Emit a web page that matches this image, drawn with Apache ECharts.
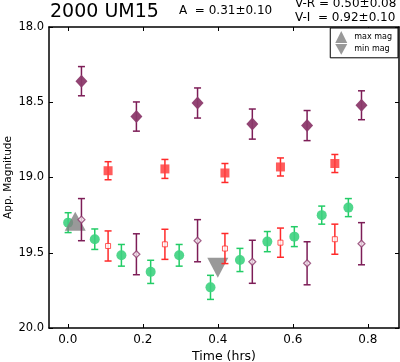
<!DOCTYPE html>
<html><head><meta charset="utf-8">
<script src="https://cdn.jsdelivr.net/npm/echarts@6/dist/echarts.min.js"></script>
<style>html,body{margin:0;padding:0;background:#fff}#c{width:400px;height:362px}</style>
</head><body><div id="c"></div>
<script>
// ---- data ----
const timeV = [0.0365, 0.183, 0.346, 0.492, 0.638, 0.783];
const magV = [18.36, 18.595, 18.505, 18.645, 18.655, 18.52];
const errV = [0.097, 0.097, 0.1, 0.1, 0.1, 0.096];

const timeR = [0.1075, 0.259, 0.419, 0.567, 0.712];
const magR = [18.955, 18.943, 18.97, 18.93, 18.907];
const errR = [0.06, 0.063, 0.063, 0.06, 0.06];

const timeG = [0.001, 0.072, 0.143, 0.221, 0.297, 0.3805, 0.459, 0.532, 0.604, 0.677, 0.748];
const magG = [19.30, 19.41, 19.517, 19.627, 19.517, 19.73, 19.548, 19.426, 19.393, 19.25, 19.20];
const errG = [0.066, 0.068, 0.072, 0.077, 0.072, 0.08, 0.077, 0.067, 0.066, 0.06, 0.06];

const magR2 = [19.455, 19.444, 19.472, 19.433, 19.41];
const errR2 = [0.1, 0.1, 0.1, 0.097, 0.1];

const magV2 = [19.28, 19.51, 19.42, 19.56, 19.57, 19.44];
const errV2 = [0.14, 0.136, 0.14, 0.143, 0.143, 0.14];

const maxMag = [[0.02, 19.29]];
const minMag = [[0.40, 19.60]];

const xTicks = [0.0, 0.2, 0.4, 0.6, 0.8];
const yTicks = [18.0, 18.5, 19.0, 19.5, 20.0];
// ---- end data ----

const zip = (xs, ys) => xs.map((x, i) => [x, ys[i]]);
const zipErr = (xs, ys, es) => xs.map((x, i) => [x, ys[i], es[i]]);
const font = 'DejaVu Sans';

function errSeries(xs, ys, es, color, z) {
  return {
    type: 'custom', silent: true, z: z,
    data: zipErr(xs, ys, es),
    renderItem: function (params, api) {
      const x = api.value(0), y = api.value(1), e = api.value(2);
      const p1 = api.coord([x, y - e]);
      const p2 = api.coord([x, y + e]);
      const w = 3.5;
      const st = { stroke: color, lineWidth: 1.5 };
      return {
        type: 'group', children: [
          { type: 'line', shape: { x1: p1[0], y1: p1[1], x2: p2[0], y2: p2[1] }, style: st },
          { type: 'line', shape: { x1: p1[0] - w, y1: p1[1], x2: p1[0] + w, y2: p1[1] }, style: st },
          { type: 'line', shape: { x1: p2[0] - w, y1: p2[1], x2: p2[0] + w, y2: p2[1] }, style: st }
        ]
      };
    }
  };
}

const purple = '#7d1d57', red = '#ff2a2a', gray = '#808080';
const downTri = 'path://M0,0 L2,0 L1,1.8 Z';

const chart = echarts.init(document.getElementById('c'), null, { renderer: 'canvas' });
chart.setOption({
  animation: false,
  textStyle: { fontFamily: font },
  grid: { left: 49, right: 1, top: 27, bottom: 34, containLabel: false, outerBoundsMode: 'none' },
  graphic: [
    { type: 'text', left: 50, top: 3, style: { text: '2000 UM15', font: '19px "DejaVu Sans"', fill: '#000' } },
    { type: 'text', left: 179, top: 5, style: { text: 'A  = 0.31\u00b10.10', font: '12px "DejaVu Sans"', fill: '#000' } },
    { type: 'text', left: 295, top: -2, style: { text: 'V-R = 0.50\u00b10.08', font: '12px "DejaVu Sans"', fill: '#000' } },
    { type: 'text', left: 295, top: 12, style: { text: 'V-I  = 0.92\u00b10.10', font: '12px "DejaVu Sans"', fill: '#000' } }
  ],
  legend: {
    right: 2, top: 28, orient: 'vertical',
    data: [{ name: 'max mag', icon: 'triangle' }, { name: 'min mag', icon: downTri }],
    itemWidth: 12, itemHeight: 12, itemGap: 1,
    padding: [3, 6, 3, 5],
    borderColor: '#000', borderWidth: 1, backgroundColor: '#fff',
    textStyle: { fontSize: 8, fontFamily: font, color: '#000', padding: [0, 0, 0, 2] }
  },
  xAxis: [{
    type: 'value', min: -0.05, max: 0.883,
    name: 'Time (hrs)', nameLocation: 'middle', nameGap: 22, nameMoveOverlap: false,
    nameTextStyle: { fontSize: 12.5, color: '#000', fontFamily: font },
    axisLine: { show: true, onZero: false, lineStyle: { color: '#000', width: 1.5 } },
    axisTick: { show: true, inside: true, length: 4, customValues: xTicks, lineStyle: { color: '#000' } },
    axisLabel: { customValues: xTicks, formatter: v => v.toFixed(1), fontSize: 12, color: '#000', margin: 6, fontFamily: font },
    splitLine: { show: false }
  }, {
    type: 'value', min: -0.05, max: 0.883, position: 'top',
    axisLine: { show: true, onZero: false, lineStyle: { color: '#000', width: 1.5 } },
    axisTick: { show: true, inside: true, length: 4, customValues: xTicks, lineStyle: { color: '#000' } },
    axisLabel: { show: false }, splitLine: { show: false }
  }],
  yAxis: [{
    type: 'value', min: 18, max: 20, interval: 0.5, inverse: true,
    name: 'App. Magnitude', nameLocation: 'middle', nameGap: 35, nameRotate: 90, nameMoveOverlap: false,
    nameTextStyle: { fontSize: 10.5, color: '#000', fontFamily: font },
    axisLine: { show: true, onZero: false, lineStyle: { color: '#000', width: 1.5 } },
    axisTick: { show: true, inside: true, length: 4, lineStyle: { color: '#000' } },
    axisLabel: { formatter: v => v.toFixed(1), fontSize: 11.5, color: '#000', margin: 5, fontFamily: font },
    splitLine: { show: false }
  }, {
    type: 'value', min: 18, max: 20, interval: 0.5, inverse: true, position: 'right',
    axisLine: { show: true, onZero: false, lineStyle: { color: '#000', width: 1.5 } },
    axisTick: { show: true, inside: true, length: 4, lineStyle: { color: '#000' } },
    axisLabel: { show: false }, splitLine: { show: false }
  }],
  series: [
    errSeries(timeV, magV, errV, purple, 2),
    { type: 'scatter', name: 'V', data: zip(timeV, magV), symbol: 'diamond', symbolSize: [12, 13], z: 3,
      itemStyle: { color: '#8c3a6c', opacity: 0.95 } },
    errSeries(timeR, magR, errR, red, 2),
    { type: 'scatter', name: 'R', data: zip(timeR, magR), symbol: 'rect', symbolSize: 9, z: 3,
      itemStyle: { color: '#ff4040', opacity: 0.85 } },
    errSeries(timeG, magG, errG, '#22cc66', 2),
    { type: 'scatter', name: 'G', data: zip(timeG, magG), symbol: 'circle', symbolSize: 10, z: 3,
      itemStyle: { color: '#3dd17f', opacity: 0.9 } },
    { type: 'scatter', name: 'max mag', data: maxMag, symbol: 'triangle', symbolSize: [21, 19], z: 4,
      itemStyle: { color: gray } },
    { type: 'scatter', name: 'min mag', data: minMag, symbol: downTri, symbolSize: [21, 20], z: 4,
      itemStyle: { color: gray } },
    errSeries(timeR, magR2, errR2, red, 5),
    { type: 'scatter', name: 'R2', data: zip(timeR, magR2), symbol: 'rect', symbolSize: 5, z: 6,
      itemStyle: { color: '#fff', borderColor: '#ff3030', borderWidth: 1 } },
    errSeries(timeV, magV2, errV2, purple, 5),
    { type: 'scatter', name: 'V2', data: zip(timeV, magV2), symbol: 'diamond', symbolSize: 7, z: 6,
      itemStyle: { color: '#f4e6ee', borderColor: '#8c3a6c', borderWidth: 1.2 } }
  ]
});
</script></body></html>
